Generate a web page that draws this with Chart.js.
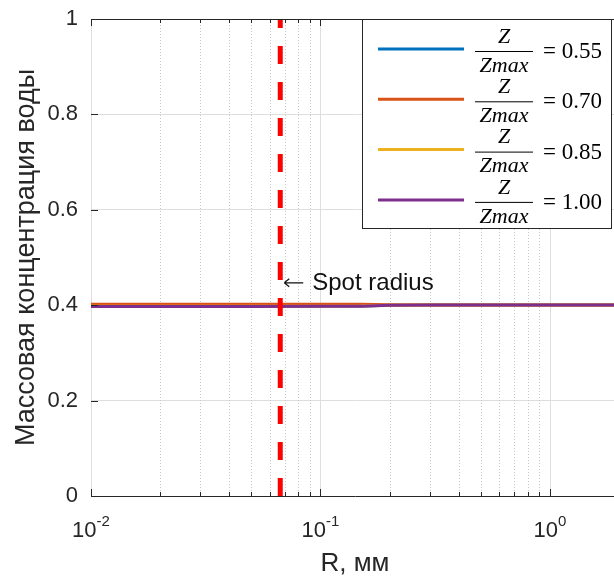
<!DOCTYPE html>
<html>
<head>
<meta charset="utf-8">
<script src="https://cdn.jsdelivr.net/npm/chart.js@4.4.0/dist/chart.umd.min.js"></script>
<style>
  html, body { margin: 0; padding: 0; background: #fff; overflow: hidden; }
  #wrap { position: relative; width: 620px; height: 579px; }
</style>
</head>
<body>
<div id="wrap"><canvas id="chart"></canvas></div>
<script>
// радиус R, мм
const radius = [0.01, 0.02, 0.05, 0.1, 0.15, 0.2, 0.3, 0.5, 1, 2];
// массовая концентрация воды для разных Z/Zmax
const conc055 = [0.3978, 0.3978, 0.3978, 0.3979, 0.3983, 0.4000, 0.4004, 0.4004, 0.4004, 0.4004];
const conc070 = [0.4022, 0.4022, 0.4022, 0.4022, 0.4019, 0.4008, 0.4004, 0.4004, 0.4004, 0.4004];
const conc085 = [0.3976, 0.3976, 0.3976, 0.3977, 0.3981, 0.4000, 0.4004, 0.4004, 0.4004, 0.4004];
const conc100 = [0.3975, 0.3975, 0.3975, 0.3976, 0.3980, 0.4000, 0.4005, 0.4005, 0.4005, 0.4005];
const zRatios = ['0.55', '0.70', '0.85', '1.00'];
const lineColors = ['#0072BD', '#D95319', '#EDB120', '#7E2F8E'];

// радиус пятна
const spotRadius = 0.0668;
const spotLabelY = 0.447;

const yTicks = [0, 0.2, 0.4, 0.6, 0.8, 1];
const xDecades = [0.01, 0.1, 1];
const xDecadeExps = ['-2', '-1', '0'];
const xMinor = [0.02, 0.03, 0.04, 0.05, 0.06, 0.07, 0.08, 0.09,
                0.2, 0.3, 0.4, 0.5, 0.6, 0.7, 0.8, 0.9, 2];

const axisColor = '#262626';
const sans = "'Liberation Sans', Arial, sans-serif";
const serif = "'Liberation Serif', 'Times New Roman', serif";

const series = [conc055, conc070, conc085, conc100];

// последняя кривая рисуется поверх остальных
const datasets = series.map((s, i) => ({
    label: 'Z/Zmax = ' + zRatios[i],
    data: radius.map((r, k) => ({ x: r, y: s[k] })),
    borderColor: lineColors[i],
    borderWidth: 3,
    pointRadius: 0,
    tension: 0,
    fill: false,
    order: series.length - i
}));

// вертикальная линия радиуса пятна
datasets.push({
    label: 'spot',
    data: [{ x: spotRadius, y: 0 }, { x: spotRadius, y: 1 }],
    borderColor: '#ff0000',
    borderWidth: 5,
    borderDash: [18, 18],
    borderCapStyle: 'butt',
    pointRadius: 0,
    order: 0
});

// сетка по оси X (основные линии сплошные, промежуточные пунктиром)
const xGridPlugin = {
    id: 'xGrid',
    beforeDatasetsDraw(chart) {
        const { ctx, chartArea: ca, scales: { x } } = chart;
        ctx.save();
        ctx.lineWidth = 1;
        ctx.strokeStyle = '#c9c9c9';
        ctx.setLineDash([1, 2]);
        xMinor.forEach(v => {
            const px = Math.round(x.getPixelForValue(v)) + 0.5;
            if (px > ca.right) return;
            ctx.beginPath();
            ctx.moveTo(px, ca.top);
            ctx.lineTo(px, ca.bottom);
            ctx.stroke();
        });
        ctx.setLineDash([]);
        ctx.strokeStyle = '#dedede';
        xDecades.forEach(v => {
            const px = Math.round(x.getPixelForValue(v)) + 0.5;
            ctx.beginPath();
            ctx.moveTo(px, ca.top);
            ctx.lineTo(px, ca.bottom);
            ctx.stroke();
        });
        ctx.restore();
    }
};

// засечки, подписи оси X, надпись и легенда
const overlayPlugin = {
    id: 'overlay',
    afterDraw(chart) {
        const { ctx, chartArea: ca, scales: { x, y } } = chart;
        ctx.save();

        // рамка сверху
        ctx.strokeStyle = axisColor;
        ctx.lineWidth = 1;
        ctx.beginPath();
        ctx.moveTo(ca.left, ca.top + 0.5);
        ctx.lineTo(ca.right, ca.top + 0.5);
        ctx.stroke();

        // засечки внутрь
        const tick = (v, len) => {
            const px = Math.round(x.getPixelForValue(v)) + 0.5;
            if (px > ca.right) return;
            ctx.beginPath();
            ctx.moveTo(px, ca.bottom);
            ctx.lineTo(px, ca.bottom - len);
            ctx.moveTo(px, ca.top);
            ctx.lineTo(px, ca.top + len);
            ctx.stroke();
        };
        xDecades.forEach(v => tick(v, 7));
        xMinor.forEach(v => tick(v, 4));
        yTicks.forEach(v => {
            const py = Math.round(y.getPixelForValue(v)) + 0.5;
            ctx.beginPath();
            ctx.moveTo(ca.left, py);
            ctx.lineTo(ca.left + 7, py);
            ctx.stroke();
        });

        // подписи 10^n
        ctx.fillStyle = axisColor;
        ctx.textBaseline = 'alphabetic';
        xDecades.forEach((v, i) => {
            const px = x.getPixelForValue(v);
            ctx.font = '22px ' + sans;
            const wBase = ctx.measureText('10').width;
            ctx.font = '15px ' + sans;
            const wExp = ctx.measureText(xDecadeExps[i]).width;
            const left = px - (wBase + wExp) / 2;
            ctx.font = '22px ' + sans;
            ctx.textAlign = 'left';
            ctx.fillText('10', left, 537);
            ctx.font = '15px ' + sans;
            ctx.fillText(xDecadeExps[i], left + wBase, 526);
        });

        // ← Spot radius
        const sx = x.getPixelForValue(spotRadius);
        const sy = y.getPixelForValue(spotLabelY);
        ctx.strokeStyle = '#111';
        ctx.lineWidth = 1.2;
        ctx.beginPath();
        ctx.moveTo(sx + 4, sy);
        ctx.lineTo(sx + 23, sy);
        ctx.moveTo(sx + 4, sy);
        ctx.lineTo(sx + 9, sy - 4);
        ctx.moveTo(sx + 4, sy);
        ctx.lineTo(sx + 9, sy + 4);
        ctx.stroke();
        ctx.fillStyle = '#111';
        ctx.font = '24px ' + sans;
        ctx.textAlign = 'left';
        ctx.fillText('Spot radius', sx + 32, sy + 7);

        // легенда
        const bx = ca.right - 257, by = ca.top, bw = 249, bh = 209;
        ctx.fillStyle = '#fff';
        ctx.fillRect(bx, by, bw, bh);
        ctx.strokeStyle = axisColor;
        ctx.lineWidth = 1;
        ctx.strokeRect(bx + 0.5, by + 0.5, bw, bh);
        zRatios.forEach((z, i) => {
            const ly = by + 30 + i * 50.3;
            ctx.strokeStyle = lineColors[i];
            ctx.lineWidth = 3;
            ctx.beginPath();
            ctx.moveTo(bx + 16, ly);
            ctx.lineTo(bx + 102, ly);
            ctx.stroke();

            const fc = bx + 142;
            ctx.fillStyle = '#000';
            ctx.textBaseline = 'middle';
            ctx.textAlign = 'center';
            ctx.font = 'italic 22px ' + serif;
            ctx.fillText('Z', fc, ly - 12);
            ctx.fillText('Zmax', fc, ly + 17);
            ctx.strokeStyle = '#000';
            ctx.lineWidth = 1;
            ctx.beginPath();
            ctx.moveTo(bx + 113, ly + 2.5);
            ctx.lineTo(bx + 171, ly + 2.5);
            ctx.stroke();
            ctx.textAlign = 'left';
            ctx.font = '23px ' + serif;
            ctx.fillText('= ' + z, bx + 181, ly + 3);
        });
        ctx.restore();
    }
};

new Chart(document.getElementById('chart'), {
    type: 'line',
    data: { datasets: datasets },
    options: {
        responsive: true,
        maintainAspectRatio: false,
        animation: false,
        layout: { padding: { top: 19, right: 1, left: 0, bottom: 0 } },
        plugins: { legend: { display: false }, tooltip: { enabled: false } },
        scales: {
            x: {
                type: 'logarithmic',
                min: 0.01,
                max: 2,
                afterFit: s => {
                    s.height = 83;
                    s.paddingLeft = 0;
                    s.paddingRight = 0;
                },
                ticks: { display: false },
                grid: { display: false },
                border: { display: true, color: axisColor, width: 1 },
                title: {
                    display: true,
                    text: 'R, мм',
                    color: axisColor,
                    font: { family: sans, size: 26 },
                    padding: { top: 0, bottom: 0 }
                }
            },
            y: {
                min: 0,
                max: 1,
                afterFit: s => {
                    s.width = 91;
                    s.paddingTop = 0;
                    s.paddingBottom = 0;
                },
                afterBuildTicks: s => { s.ticks = yTicks.map(v => ({ value: v })); },
                ticks: {
                    color: axisColor,
                    font: { family: sans, size: 22 },
                    padding: 13,
                    callback: v => String(v)
                },
                grid: { color: '#dedede', drawTicks: false },
                border: { display: true, color: axisColor, width: 1 },
                title: {
                    display: true,
                    text: 'Массовая концентрация воды',
                    color: axisColor,
                    font: { family: sans, size: 27 },
                    padding: { top: 10, bottom: 0 }
                }
            }
        }
    },
    plugins: [xGridPlugin, overlayPlugin]
});
</script>
</body>
</html>
